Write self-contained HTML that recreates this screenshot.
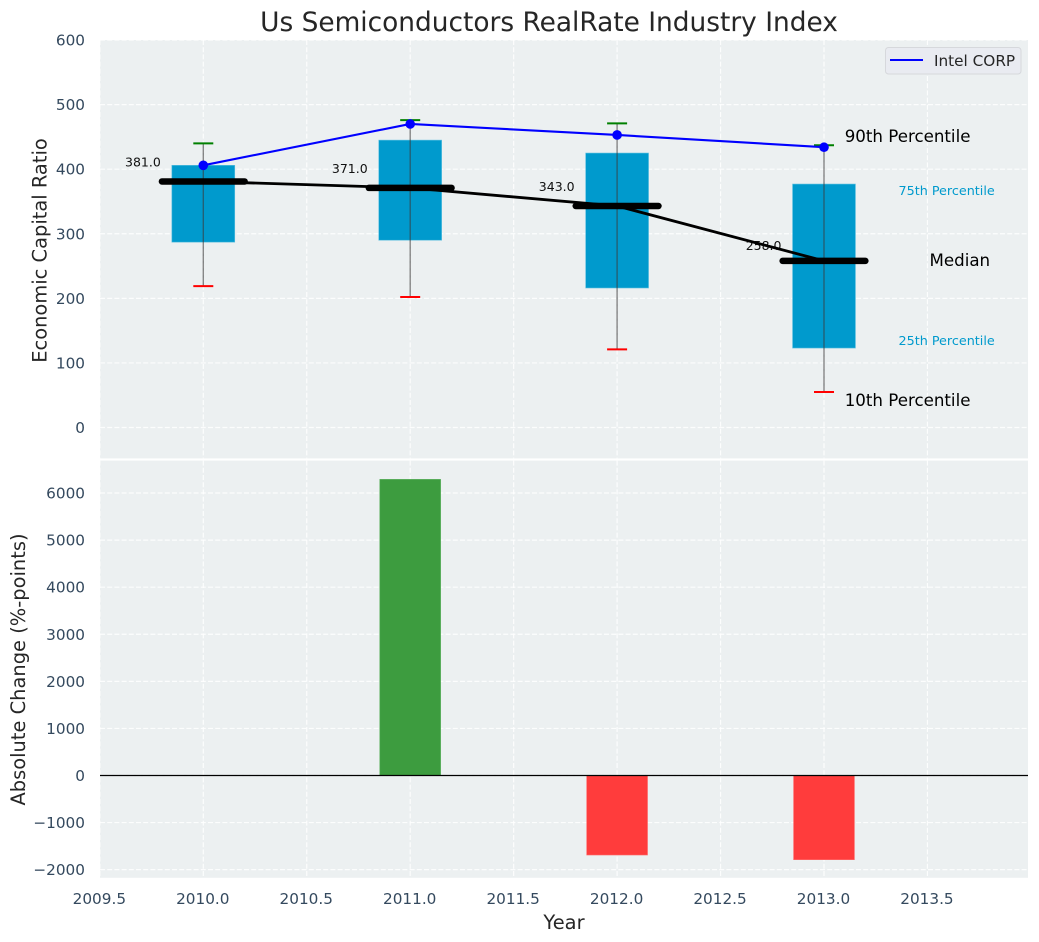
<!DOCTYPE html>
<html lang="en">
<head>
<meta charset="utf-8">
<title>Us Semiconductors RealRate Industry Index</title>
<style>
html,body{margin:0;padding:0;background:#fff;width:1039px;height:942px;overflow:hidden}
svg{display:block}
text{font-family:"DejaVu Sans","Liberation Sans",sans-serif}
</style>
</head>
<body>
<svg id="chart" xmlns="http://www.w3.org/2000/svg" width="1039" height="942" viewBox="0 0 1039 942"></svg>
<script>
const years = [2010, 2011, 2012, 2013];
const p10 = [219, 202, 121, 55];
const p25 = [287, 290, 216, 123];
const medians = [381, 371, 343, 258];
const p75 = [406, 445, 425, 377];
const p90 = [440, 476, 471, 437];
const intelValues = [406, 470, 453, 434];
const changeValues = [0, 6290, -1689, -1788];
const xTicks = [2009.5, 2010, 2010.5, 2011, 2011.5, 2012, 2012.5, 2013, 2013.5];
const yTopTicks = [0, 100, 200, 300, 400, 500, 600];
const yBottomTicks = [-2000, -1000, 0, 1000, 2000, 3000, 4000, 5000, 6000];
const legendLabel = 'Intel CORP';

const NS = 'http://www.w3.org/2000/svg';
const svg = document.getElementById('chart');
const PANEL_LEFT = 100, PANEL_RIGHT = 1028;
const TOP_Y0 = 40, TOP_Y1 = 458.4, BOTTOM_Y0 = 460.6, BOTTOM_Y1 = 877.8;

function x(v) { return 203.3 + (v - 2010) * 206.9; }
function yTop(v) { return 427.5 - v * 0.6458; }
function yBottom(v) { return 775.5 - v * 0.04708; }
function minus(v) { return String(v).replace('-', '\u2212'); }
function medianLabelGap(i) { return i === years.length - 1 ? 11 : 15; }

function make(tag, attrs, parent, txt) {
  const el = document.createElementNS(NS, tag);
  for (const k in attrs) el.setAttribute(k, attrs[k]);
  if (txt !== undefined) el.textContent = txt;
  (parent || svg).appendChild(el);
  return el;
}
function group(name) {
  const g = make('g', {});
  
  
  return g;
}

/* panels */
const panelTop = make('rect', {x: PANEL_LEFT, y: TOP_Y0, width: PANEL_RIGHT - PANEL_LEFT, height: TOP_Y1 - TOP_Y0, fill: '#ecf0f1'});


const panelBottom = make('rect', {x: PANEL_LEFT, y: BOTTOM_Y0, width: PANEL_RIGHT - PANEL_LEFT, height: BOTTOM_Y1 - BOTTOM_Y0, fill: '#ecf0f1'});



/* grids */
const gridStyle = {stroke: '#ffffff', 'stroke-width': 1.2, 'stroke-dasharray': '5 2.2', 'stroke-opacity': 0.85, fill: 'none'};
const gridTop = group('top-panel-grid');
const gridBottom = group('bottom-panel-grid');
xTicks.forEach(function (t) {
  const a = make('line', Object.assign({x1: x(t), x2: x(t), y1: TOP_Y0, y2: TOP_Y1}, gridStyle), gridTop);
  
  
  const b = make('line', Object.assign({x1: x(t), x2: x(t), y1: BOTTOM_Y0, y2: BOTTOM_Y1}, gridStyle), gridBottom);
  
  
});
yTopTicks.forEach(function (t) {
  const a = make('line', Object.assign({x1: PANEL_LEFT, x2: PANEL_RIGHT, y1: yTop(t), y2: yTop(t)}, gridStyle), gridTop);
  
  
});
yBottomTicks.forEach(function (t) {
  const a = make('line', Object.assign({x1: PANEL_LEFT, x2: PANEL_RIGHT, y1: yBottom(t), y2: yBottom(t)}, gridStyle), gridBottom);
  
  
});

/* boxes, whiskers, caps */
const boxes = group('percentile-boxes');
years.forEach(function (yr, i) {
  const box = make('rect', {
    x: x(yr - 0.152), y: yTop(p75[i]), width: x(yr + 0.152) - x(yr - 0.152),
    height: yTop(p25[i]) - yTop(p75[i]), fill: '#009acd', stroke: '#5fc0e0', 'stroke-width': 0.6
  }, boxes);
  
  
  const whisker = make('line', {x1: x(yr), x2: x(yr), y1: yTop(p90[i]), y2: yTop(p10[i]), stroke: '#3a3a3a', 'stroke-opacity': 0.6, 'stroke-width': 1.4}, boxes);
  
  
  const capHigh = make('line', {x1: x(yr) - 10, x2: x(yr) + 10, y1: yTop(p90[i]), y2: yTop(p90[i]), stroke: '#008000', 'stroke-width': 2}, boxes);
  
  
  const capLow = make('line', {x1: x(yr) - 10, x2: x(yr) + 10, y1: yTop(p10[i]), y2: yTop(p10[i]), stroke: '#ff0000', 'stroke-width': 2}, boxes);
  
  
});

/* median value labels (beneath the median line) */
const medianLabels = group('median-value-labels');
years.forEach(function (yr, i) {
  const t = make('text', {x: x(yr) - 42.5, y: yTop(medians[i]) - medianLabelGap(i), 'text-anchor': 'end', 'font-size': 12.5, fill: '#111'}, medianLabels, medians[i].toFixed(1));
  
  
});

/* median line and thick bars */
const medianLine = make('polyline', {
  points: years.map(function (yr, i) { return x(yr) + ',' + yTop(medians[i]); }).join(' '),
  fill: 'none', stroke: '#000', 'stroke-width': 2.8
});


const medianBars = group('median-bars');
years.forEach(function (yr, i) {
  const m = make('line', {x1: x(yr - 0.2), x2: x(yr + 0.2), y1: yTop(medians[i]), y2: yTop(medians[i]), stroke: '#000', 'stroke-width': 6.5, 'stroke-linecap': 'round'}, medianBars);
  
  
});

/* Intel series */
const intelLine = make('polyline', {
  points: years.map(function (yr, i) { return x(yr) + ',' + yTop(intelValues[i]); }).join(' '),
  fill: 'none', stroke: '#0000ff', 'stroke-width': 2.1
});


years.forEach(function (yr, i) {
  const c = make('circle', {cx: x(yr), cy: yTop(intelValues[i]), r: 4.8, fill: '#0000ff'});
  
  
});

/* percentile annotations */
const notes = group('percentile-annotations');
const n90 = make('text', {x: x(2013.1), y: yTop(442), 'font-size': 16.67, fill: '#000'}, notes, '90th Percentile');


const n75 = make('text', {x: x(2013.36), y: yTop(360), 'font-size': 12.75, fill: '#009acd'}, notes, '75th Percentile');


const nMed = make('text', {x: x(2013.51), y: yTop(250), 'font-size': 16.67, fill: '#000'}, notes, 'Median');


const n25 = make('text', {x: x(2013.36), y: yTop(128), 'font-size': 12.75, fill: '#009acd'}, notes, '25th Percentile');


const n10 = make('text', {x: x(2013.1), y: yTop(33), 'font-size': 16.67, fill: '#000'}, notes, '10th Percentile');



/* legend */
const legend = group('legend');
const legendBox = make('rect', {x: 885.5, y: 47.5, width: 135.5, height: 26.5, rx: 3, fill: '#e9ebf1', stroke: '#d6d8dc', 'stroke-width': 1}, legend);


const legendHandle = make('line', {x1: 890, x2: 923, y1: 60, y2: 60, stroke: '#0000ff', 'stroke-width': 2}, legend);


const legendText = make('text', {x: 934, y: 66, 'font-size': 15.28, fill: '#262626'}, legend, legendLabel);



/* change bars */
const changeBars = group('absolute-change-bars');
years.forEach(function (yr, i) {
  const v = changeValues[i];
  if (v === 0) return;
  const top = Math.min(yBottom(v), yBottom(0));
  const h = Math.abs(yBottom(v) - yBottom(0));
  const bar = make('rect', {
    x: x(yr - 0.147), y: top, width: x(yr + 0.147) - x(yr - 0.147), height: h,
    fill: v > 0 ? '#3d9c3f' : '#ff3c3c', stroke: v > 0 ? '#5cb05e' : '#ff6a6a', 'stroke-width': 0.6
  }, changeBars);
  
  
});
const zeroLine = make('line', {x1: PANEL_LEFT, x2: PANEL_RIGHT, y1: yBottom(0), y2: yBottom(0), stroke: '#000', 'stroke-width': 1.3});



/* tick labels */
const tickColor = '#34495e';
const xLabels = group('x-axis-tick-labels');
xTicks.forEach(function (t) {
  const l = make('text', {x: x(t) - 0.5, y: 904, 'text-anchor': 'middle', 'font-size': 15.28, fill: tickColor}, xLabels, t.toFixed(1));
  
  
});
const yLabelsTop = group('top-y-axis-tick-labels');
yTopTicks.forEach(function (t) {
  const l = make('text', {x: 85, y: yTop(t) + 5.5, 'text-anchor': 'end', 'font-size': 15.28, fill: tickColor}, yLabelsTop, minus(t));
  
  
});
const yLabelsBottom = group('bottom-y-axis-tick-labels');
yBottomTicks.forEach(function (t) {
  const l = make('text', {x: 85, y: yBottom(t) + 5.5, 'text-anchor': 'end', 'font-size': 15.28, fill: tickColor}, yLabelsBottom, minus(t));
  
  
});

/* titles */
const title = make('text', {x: 549, y: 31, 'text-anchor': 'middle', 'font-size': 26.4, fill: '#262626'}, svg, 'Us Semiconductors RealRate Industry Index');


const yTitleTop = make('text', {transform: 'translate(46.5 250.5) rotate(-90)', 'text-anchor': 'middle', 'font-size': 19.44, fill: '#262626'}, svg, 'Economic Capital Ratio');


const yTitleBottom = make('text', {transform: 'translate(25 669.5) rotate(-90)', 'text-anchor': 'middle', 'font-size': 19.44, fill: '#262626'}, svg, 'Absolute Change (%-points)');


const xTitle = make('text', {x: 564, y: 929, 'text-anchor': 'middle', 'font-size': 19.44, fill: '#262626'}, svg, 'Year');


</script>
</body>
</html>
